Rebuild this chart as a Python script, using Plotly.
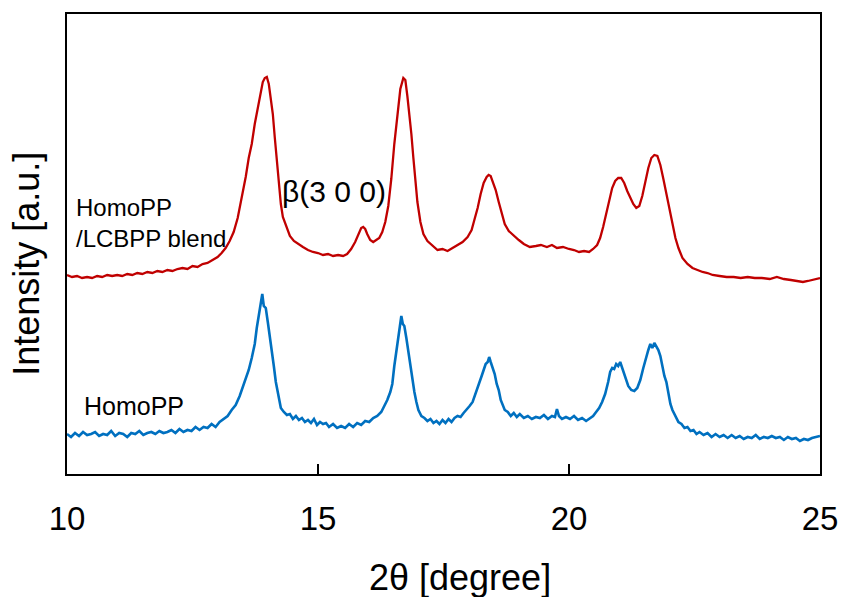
import plotly.graph_objects as go

# ---- data (2theta in degrees, intensity in arbitrary units) ----
blend_x = [10.00,10.10,10.20,10.30,10.40,10.50,10.60,10.70,10.80,10.90,11.00,11.10,11.20,11.30,11.40,11.50,11.60,11.70,11.80,11.90,
           12.00,12.10,12.20,12.30,12.40,12.50,12.60,12.70,12.80,12.90,13.00,13.08,13.16,13.24,13.32,13.40,13.48,13.56,13.62,13.68,
           13.74,13.80,13.86,13.90,13.94,13.98,14.02,14.06,14.10,14.14,14.18,14.22,14.26,14.30,14.36,14.44,14.52,14.60,14.70,14.80,
           14.90,15.00,15.10,15.20,15.30,15.40,15.50,15.58,15.66,15.74,15.80,15.86,15.90,15.94,15.98,16.04,16.10,16.16,16.22,16.28,
           16.34,16.40,16.46,16.52,16.58,16.64,16.70,16.74,16.78,16.82,16.86,16.90,16.94,16.98,17.04,17.10,17.18,17.28,17.38,17.48,
           17.58,17.68,17.78,17.88,17.98,18.06,18.12,18.18,18.24,18.30,18.36,18.40,18.44,18.48,18.54,18.60,18.66,18.72,18.80,18.90,
           19.00,19.10,19.22,19.34,19.44,19.56,19.66,19.76,19.88,20.00,20.10,20.20,20.30,20.40,20.48,20.56,20.62,20.68,20.74,20.80,
           20.86,20.92,20.98,21.04,21.10,21.16,21.22,21.28,21.34,21.40,21.46,21.52,21.58,21.64,21.70,21.76,21.82,21.88,21.94,22.00,
           22.06,22.12,22.18,22.26,22.36,22.46,22.56,22.66,22.76,22.86,23.00,23.14,23.28,23.42,23.56,23.70,23.84,24.00,24.14,24.28,
           24.42,24.56,24.66,24.76,24.86,24.96,25.00]
blend_y = [199,197,198,196,197,196,198,197,199,198,199,198,200,199,201,200,202,201,203,202,
           204,203,205,206,205,208,207,210,211,214,217,221,226,233,242,256,275,297,316,330,
           350,366,384,392,396,397,390,376,360,336,312,290,270,257,248,238,233,230,227,224,
           222,221,219,220,218,219,218,220,225,232,240,246,247,245,240,234,232,234,236,242,
           252,268,295,330,360,385,396,394,378,362,340,316,294,272,252,240,233,228,224,225,
           223,226,229,232,237,244,255,266,280,291,297,299,298,293,284,272,260,250,243,238,
           234,230,227,228,229,227,229,226,227,225,224,222,223,222,225,229,236,247,260,274,
           286,293,296,296,291,283,276,270,266,268,278,293,306,316,319,318,309,295,280,264,
           250,236,226,216,210,206,204,202,201,199,198,197,197,196,197,196,196,195,197,195,
           194,193,192,193,194,195,196]

homo_x = [10.00,10.08,10.16,10.24,10.32,10.40,10.48,10.56,10.64,10.72,10.80,10.88,10.96,11.04,11.12,11.20,11.28,11.36,11.44,11.52,
          11.60,11.68,11.76,11.84,11.92,12.00,12.08,12.16,12.24,12.32,12.40,12.48,12.56,12.64,12.72,12.80,12.88,12.96,13.04,13.12,
          13.20,13.28,13.36,13.44,13.50,13.56,13.62,13.68,13.74,13.78,13.82,13.86,13.89,13.92,13.96,14.00,14.04,14.08,14.12,14.16,
          14.20,14.26,14.32,14.38,14.44,14.50,14.56,14.62,14.68,14.74,14.80,14.86,14.92,14.98,15.04,15.10,15.16,15.22,15.30,15.38,
          15.46,15.54,15.62,15.70,15.78,15.86,15.94,16.02,16.10,16.18,16.26,16.32,16.38,16.44,16.48,16.52,16.56,16.60,16.63,16.66,
          16.69,16.72,16.76,16.80,16.84,16.88,16.92,16.96,17.00,17.06,17.12,17.18,17.24,17.30,17.36,17.42,17.48,17.54,17.60,17.66,
          17.72,17.78,17.84,17.90,17.96,18.02,18.08,18.14,18.20,18.26,18.30,18.34,18.38,18.41,18.44,18.48,18.52,18.56,18.60,18.64,
          18.68,18.72,18.78,18.84,18.90,18.96,19.02,19.10,19.18,19.26,19.34,19.42,19.50,19.58,19.66,19.72,19.76,19.80,19.86,19.94,
          20.02,20.10,20.18,20.26,20.34,20.42,20.48,20.54,20.60,20.66,20.72,20.78,20.82,20.86,20.90,20.94,20.98,21.02,21.06,21.10,
          21.14,21.18,21.24,21.30,21.36,21.42,21.48,21.54,21.58,21.62,21.66,21.70,21.74,21.78,21.82,21.86,21.90,21.94,21.98,22.02,
          22.06,22.12,22.18,22.24,22.30,22.36,22.42,22.48,22.54,22.60,22.68,22.76,22.84,22.92,23.00,23.08,23.16,23.24,23.32,23.40,
          23.48,23.56,23.64,23.72,23.80,23.88,23.96,24.04,24.12,24.20,24.28,24.36,24.44,24.52,24.60,24.68,24.76,24.84,24.92,25.00]
homo_y = [40,37,41,38,42,39,40,42,38,40,39,43,38,41,40,37,41,40,43,39,
          41,42,40,43,41,42,44,41,45,42,44,43,47,44,47,46,50,47,52,55,
          58,64,69,78,87,96,104,116,130,146,158,172,180,168,166,152,138,126,108,92,
          80,66,62,59,60,55,58,54,56,52,54,51,55,49,52,50,51,47,50,46,
          48,46,50,47,51,49,53,52,56,58,62,68,74,82,90,108,124,140,152,158,
          150,148,136,122,108,96,82,72,64,58,56,53,55,51,53,50,54,51,55,52,
          56,58,57,61,64,68,72,80,88,98,104,110,112,117,112,106,100,90,84,74,
          68,64,62,58,61,57,60,56,58,55,57,56,59,55,58,57,65,58,55,57,
          55,58,54,56,53,56,58,62,66,72,80,92,102,106,105,110,108,112,106,102,
          96,88,84,83,86,94,106,118,124,130,126,131,128,124,118,108,98,92,80,70,
          64,58,52,50,46,47,43,44,40,42,39,41,37,40,37,39,36,39,36,38,
          35,37,36,39,35,37,36,38,36,37,34,37,35,36,33,35,34,36,37,38]

x_ticks = [10, 15, 20, 25]

FONT = "Liberation Sans, Arial, sans-serif"

fig = go.Figure()
fig.add_trace(go.Scatter(x=blend_x, y=blend_y, mode="lines",
                         line=dict(color="#c00000", width=2.3), name="HomoPP/LCBPP blend"))
fig.add_trace(go.Scatter(x=homo_x, y=homo_y, mode="lines",
                         line=dict(color="#0070c0", width=2.6), name="HomoPP"))

fig.add_annotation(x=10.13, y=251, xref="x", yref="y", text="HomoPP<br>/LCBPP blend",
                   showarrow=False, xanchor="left", yanchor="middle", align="left",
                   font=dict(family=FONT, size=24, color="black"))
fig.add_annotation(x=14.24, y=283, xref="x", yref="y", text="β(3 0 0)",
                   showarrow=False, xanchor="left", yanchor="middle",
                   font=dict(family=FONT, size=30, color="black"))
fig.add_annotation(x=10.30, y=68, xref="x", yref="y", text="HomoPP",
                   showarrow=False, xanchor="left", yanchor="middle",
                   font=dict(family=FONT, size=25, color="black"))

# axis titles (placed as paper-referenced text to match their offset positions)
fig.add_annotation(x=0.522, y=-0.226, xref="paper", yref="paper", text="2θ [degree]",
                   showarrow=False, xanchor="center", yanchor="middle",
                   font=dict(family=FONT, size=36, color="black"))
fig.add_annotation(x=-0.053, y=0.457, xref="paper", yref="paper", text="Intensity [a.u.]",
                   showarrow=False, xanchor="center", yanchor="middle", textangle=-90,
                   font=dict(family=FONT, size=36, color="black"))

fig.update_layout(
    width=845, height=597,
    margin=dict(l=67, r=25, t=14, b=123, autoexpand=False),
    plot_bgcolor="white", paper_bgcolor="white",
    showlegend=False,
    font=dict(family=FONT, color="black"),
)
fig.update_xaxes(range=[10, 25], tickvals=x_ticks, ticktext=[str(v) for v in x_ticks],
                 ticks="inside", ticklen=10, tickwidth=2, tickcolor="black",
                 showline=True, linecolor="black", linewidth=2, mirror=True,
                 showgrid=False, zeroline=False, automargin=False,
                 tickfont=dict(family=FONT, size=33, color="black"),
                 ticklabelstandoff=14)
fig.update_yaxes(range=[0, 460], showticklabels=False, ticks="",
                 showline=True, linecolor="black", linewidth=2, mirror=True,
                 showgrid=False, zeroline=False, automargin=False)

fig.write_html("out.html", config={"displayModeBar": False},
               post_script="document.body.style.margin='0px';")
